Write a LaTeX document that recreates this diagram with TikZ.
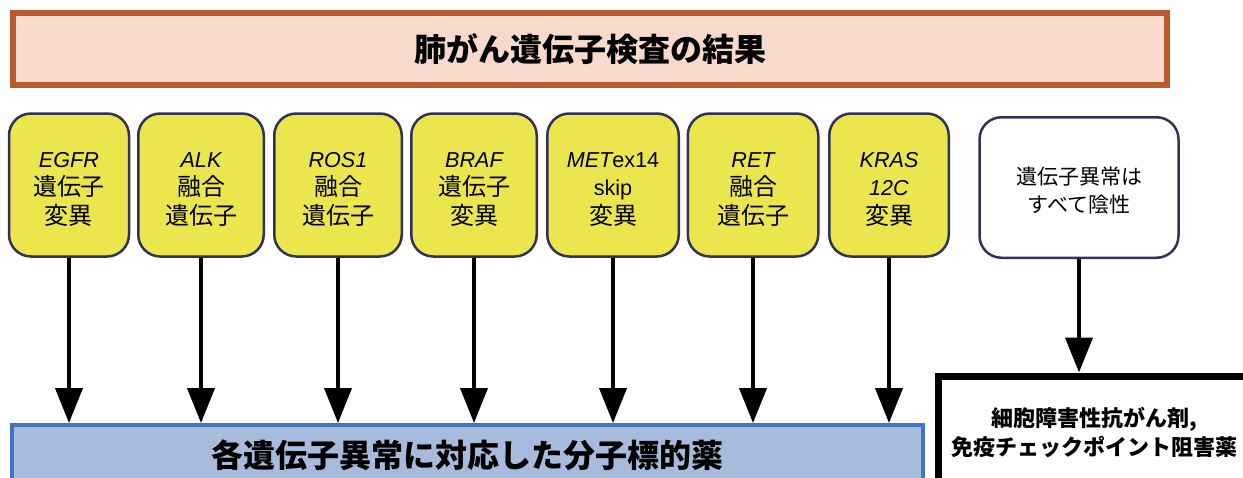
\documentclass[tikz,border=0pt]{standalone}
\usepackage{fontspec}
\setmainfont{Noto Sans CJK JP}
\newfontfamily\lat[Scale=0.9]{Liberation Sans}
\usetikzlibrary{arrows.meta}
\definecolor{titlefill}{HTML}{F7DACC}
\definecolor{titledraw}{HTML}{BD5A2E}
\definecolor{genefill}{HTML}{EBE64E}
\definecolor{genedraw}{HTML}{2F3355}
\definecolor{drugfill}{HTML}{A7BBDD}
\definecolor{drugdraw}{HTML}{4472C4}
\newcommand\lift[1]{\rule{0pt}{#1}}

\begin{document}
\begin{tikzpicture}[x=1pt,y=-1pt,
	genebox/.style={draw=genedraw,fill=genefill,line width=2.5pt,rounded corners=22pt,minimum height=143pt,inner sep=0pt,align=center,font=\fontsize{24pt}{28.5pt}\selectfont},
	arr/.style={line width=4pt,-{Triangle[width=27pt,length=35pt]}}]
				\useasboundingbox (0,0) rectangle (1243,477);
				\node [draw=titledraw,fill=titlefill,line width=6pt,minimum width=1154pt,minimum height=72pt,font=\fontsize{32pt}{36pt}\selectfont\bfseries] (title) at (590,49) {肺がん遺伝子検査の結果};
				% gene boxes
				\node [genebox,minimum width=120pt] (egfr) at (69,185) {\lift{23.5pt}{\lat\itshape EGFR}\\遺伝子\\変異};
				\node [genebox,minimum width=125.5pt] (alk) at (201,185) {\lift{23.5pt}{\lat\itshape ALK}\\融合\\遺伝子};
				\node [genebox,minimum width=127.5pt] (ros) at (338,185) {\lift{23.5pt}{\lat\itshape ROS1}\\融合\\遺伝子};
				\node [genebox,minimum width=125.5pt] (braf) at (474,185) {\lift{23.5pt}{\lat\itshape BRAF}\\遺伝子\\変異};
				\node [genebox,minimum width=131.5pt] (met) at (613,185) {\lift{23.5pt}{\lat\itshape MET}{\lat ex14}\\{\lat skip}\\変異};
				\node [genebox,minimum width=130.5pt] (ret) at (753,185) {\lift{23.5pt}{\lat\itshape RET}\\融合\\遺伝子};
				\node [genebox,minimum width=119.5pt] (kras) at (889,185) {\lift{23.5pt}{\lat\itshape KRAS}\\{\lat\itshape 12C}\\変異};
				\node [genebox,fill=white,minimum width=199pt,minimum height=140.5pt,font=\fontsize{21pt}{28pt}\selectfont] (neg) at (1079,187.5) {\lift{24pt}遺伝子異常は\\すべて陰性};
				% treatments
				\node [draw=drugdraw,fill=drugfill,line width=4pt,minimum width=911pt,minimum height=60pt,font=\fontsize{32pt}{36pt}\selectfont\bfseries] (target) at (467.5,455) {各遺伝子異常に対応した分子標的薬};
				\node [draw,fill=white,line width=7pt,minimum width=312pt,minimum height=108pt,align=center,font=\fontsize{22pt}{29pt}\selectfont\bfseries] (chemo) at (1094,430) {\lift{25pt}細胞障害性抗がん剤,\\免疫チェックポイント阻害薬};
				\draw [arr] (egfr.south) -- (egfr.south |- target.north);
				\draw [arr] (alk.south) -- (alk.south |- target.north);
				\draw [arr] (ros.south) -- (ros.south |- target.north);
				\draw [arr] (braf.south) -- (braf.south |- target.north);
				\draw [arr] (met.south) -- (met.south |- target.north);
				\draw [arr] (ret.south) -- (ret.south |- target.north);
				\draw [arr] (kras.south) -- (kras.south |- target.north);
				\draw [arr] (neg.south) -- (neg.south |- chemo.north);
			\end{tikzpicture}
\end{document}
